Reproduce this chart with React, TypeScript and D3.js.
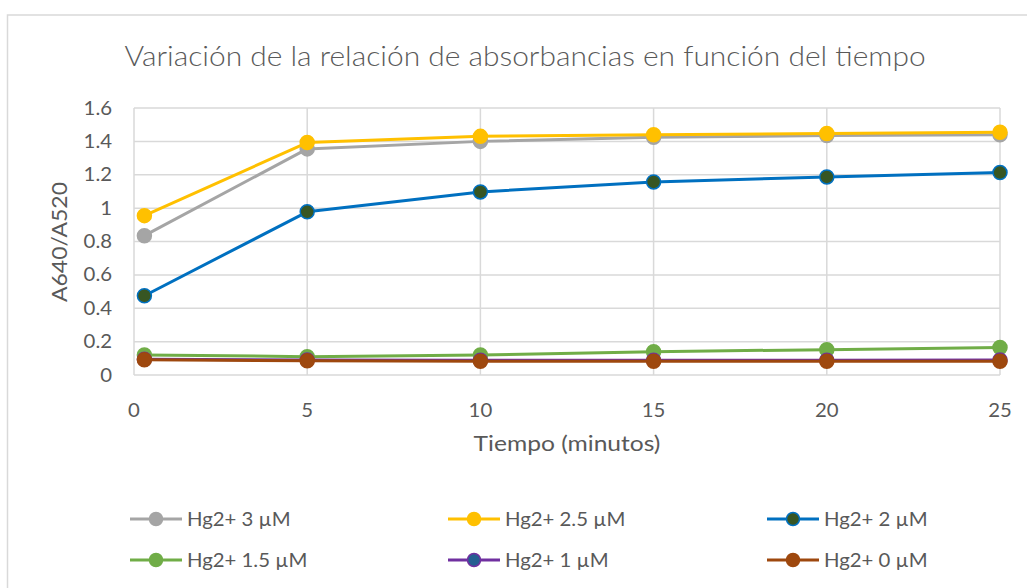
import React from "react";
import * as d3 from "d3";

const times = [0.3, 5, 10, 15, 20, 25];
const seriesNames = ["Hg2+ 3 µM", "Hg2+ 2.5 µM", "Hg2+ 2 µM", "Hg2+ 1.5 µM", "Hg2+ 1 µM", "Hg2+ 0 µM"];
const hg3 = [0.835, 1.355, 1.40, 1.425, 1.435, 1.44];
const hg25 = [0.955, 1.393, 1.43, 1.44, 1.447, 1.455];
const hg2 = [0.475, 0.978, 1.097, 1.157, 1.187, 1.213];
const hg15 = [0.12, 0.11, 0.12, 0.14, 0.152, 0.165];
const hg1 = [0.095, 0.09, 0.088, 0.088, 0.088, 0.09];
const hg0 = [0.092, 0.085, 0.083, 0.083, 0.083, 0.082];
const yTicks = [0, 0.2, 0.4, 0.6, 0.8, 1, 1.2, 1.4, 1.6];
const xTicks = [0, 5, 10, 15, 20, 25];

const lineColors = ["#A5A5A5", "#FFC000", "#0070C0", "#70AD47", "#7030A0", "#9E480E"];
const fillColors = ["#A5A5A5", "#FFC000", "#375623", "#70AD47", "#255E91", "#9E480E"];

const FONT = "Lato, 'Open Sans', sans-serif";

function T(props: { x: number; y: number; sx: number; size: number; anchor?: string; weight?: number; rotate?: number; children: any }) {
  const { x, y, sx, size, anchor, weight, rotate, children } = props;
  const tr = `translate(${x},${y})${rotate ? ` rotate(${rotate})` : ""} scale(${sx},1)`;
  return (
    <text transform={tr} textAnchor={anchor || "start"} fontFamily={FONT} fontWeight={weight || 400} fontSize={size} fill="#595959">
      {children}
    </text>
  );
}

export default function App() {
  const W = 1027, H = 588;
  const x = d3.scaleLinear().domain([0, 25]).range([134, 1000]);
  const y = d3.scaleLinear().domain([0, 1.6]).range([375, 108]);
  const allSeries = [hg3, hg25, hg2, hg15, hg1, hg0];
  const line = d3.line<number>().x((_, i) => x(times[i])).y((d) => y(d));
  const legendPos = [
    [130, 519], [448, 519], [767, 519],
    [130, 560], [448, 560], [767, 560],
  ];
  return (
    <svg width={W} height={H} style={{ position: "absolute", left: 0, top: 0, background: "#fff" }}>
      <rect x={0} y={0} width={W} height={H} fill="#fff" />
      <rect x={7.5} y={15} width={1040} height={600} fill="#fff" stroke="#d9d9d9" strokeWidth={1.5} />
      <T x={525} y={66} sx={1.13} size={26.5} anchor="middle" weight={300}>
        Variación de la relación de absorbancias en función del tiempo
      </T>
      {yTicks.map((t) => (
        <line key={"gy" + t} x1={x(0)} x2={x(25)} y1={y(t)} y2={y(t)} stroke="#d9d9d9" strokeWidth={1.5} />
      ))}
      {xTicks.map((t) => (
        <line key={"gx" + t} x1={x(t)} x2={x(t)} y1={y(0)} y2={y(1.6)} stroke="#d9d9d9" strokeWidth={1.5} />
      ))}
      {yTicks.map((t) => (
        <T key={"ty" + t} x={112} y={y(t) + 6.5} sx={1.1} size={18.5} anchor="end">
          {String(t)}
        </T>
      ))}
      {xTicks.map((t) => (
        <T key={"tx" + t} x={x(t)} y={417} sx={1.1} size={18.5} anchor="middle">
          {String(t)}
        </T>
      ))}
      <T x={567} y={451} sx={1.2} size={20.5} anchor="middle">
        Tiempo (minutos)
      </T>
      <T x={67} y={242} sx={1.12} size={20.5} anchor="middle" rotate={-90}>
        A640/A520
      </T>
      {allSeries.map((s, si) => (
        <g key={"s" + si}>
          <path d={line(s) || ""} fill="none" stroke={lineColors[si]} strokeWidth={3} strokeLinejoin="round" />
          {s.map((v, i) => (
            <circle key={i} cx={x(times[i])} cy={y(v)} r={7} fill={fillColors[si]} stroke={lineColors[si]} strokeWidth={1.5} />
          ))}
        </g>
      ))}
      {seriesNames.map((n, si) => {
        const [lx, ly] = legendPos[si];
        return (
          <g key={"l" + si}>
            <line x1={lx} x2={lx + 52} y1={ly} y2={ly} stroke={lineColors[si]} strokeWidth={3} />
            <circle cx={lx + 26} cy={ly} r={6.5} fill={fillColors[si]} stroke={lineColors[si]} strokeWidth={1.5} />
            <T x={lx + 57} y={ly + 6.5} sx={1.1} size={18.5}>
              {n}
            </T>
          </g>
        );
      })}
    </svg>
  );
}
